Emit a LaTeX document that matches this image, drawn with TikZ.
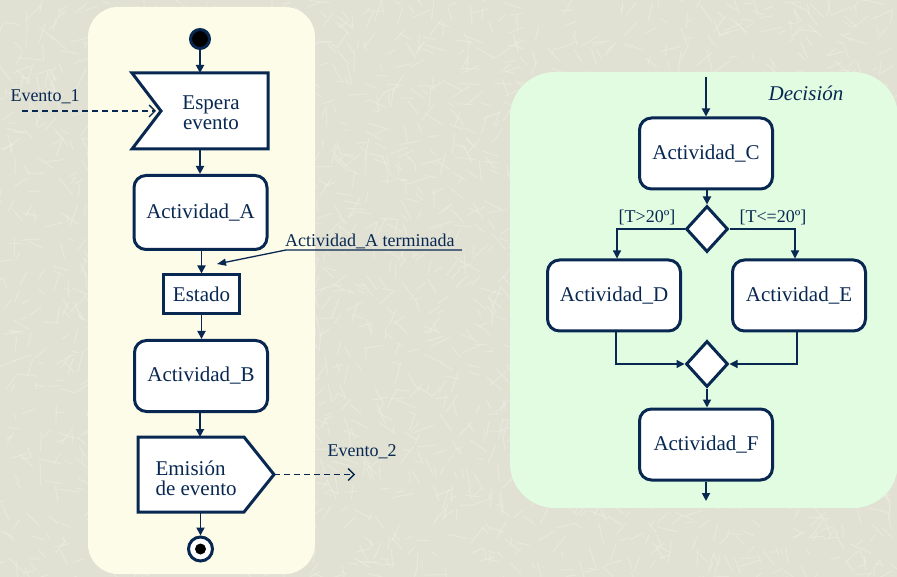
\documentclass[tikz,border=0pt]{standalone}
\usepackage{fontspec}
\setmainfont{Liberation Serif}
\usetikzlibrary{arrows.meta,shapes.geometric,calc}

\definecolor{navy}{RGB}{8,40,82}
\definecolor{backdrop}{RGB}{224,224,211}
\definecolor{straw}{RGB}{238,238,229}
\definecolor{panelyellow}{RGB}{252,252,232}
\definecolor{panelgreen}{RGB}{226,252,226}

\begin{document}
\begin{tikzpicture}[x=1pt,y=-1pt,
  every node/.style={text=navy},
  bigtext/.style={font=\fontsize{21}{20}\selectfont},
  smalltext/.style={font=\fontsize{18}{20}\selectfont},
  activity/.style={bigtext, draw=navy, line width=3pt, fill=white,
    rounded corners=12pt, minimum width=133pt, minimum height=71pt, inner sep=0pt},
  statebox/.style={bigtext, draw=navy, line width=3pt, fill=white,
    minimum width=76pt, minimum height=39pt, inner sep=0pt},
  choice/.style={diamond, draw=navy, line width=3pt, fill=white,
    minimum width=42pt, minimum height=46pt, inner sep=0pt},
  outline/.style={draw=navy, line width=3pt, fill=white, line join=miter},
  placeholder/.style={inner sep=0pt, outer sep=0pt},
  flow/.style={draw=navy, line width=1.8pt, -{Triangle[length=8pt,width=8pt]}},
  thinflow/.style={draw=navy, line width=1.2pt, -{Triangle[length=8pt,width=8pt]}},
  signalflow/.style={draw=navy, line width=1.3pt, dash pattern=on 6pt off 4pt,
    -{Straight Barb[length=6pt,width=12pt]}},
]
% textured page background
\fill[backdrop] (0,0) rectangle (897,577);
\pgfmathsetseed{4711}
\begin{scope}
  \clip (0,0) rectangle (897,577);
  \foreach \k in {1,...,2600}{
    \pgfmathsetmacro{\px}{rnd*897}
    \pgfmathsetmacro{\py}{rnd*577}
    \pgfmathsetmacro{\ang}{rnd*360}
    \pgfmathsetmacro{\len}{6+rnd*16}
    \draw[straw, line width=1.1pt, line cap=round, opacity=0.55]
      (\px,\py) -- ++(\ang:\len);
  }
\end{scope}
\useasboundingbox (0,0) rectangle (897,577);

% swimlanes
\fill[panelyellow, rounded corners=30pt] (88,7) rectangle (315,574);
\fill[panelgreen, rounded corners=45pt] (510,72) rectangle (898,508);

% ---------- left lane: events ----------
\node[circle, draw=navy, fill=black, line width=3pt, minimum size=19pt, inner sep=0pt]
  (start) at (200,39) {};

% "Espera evento": notched box (outline first, text on top)
\node[placeholder, minimum width=136pt, minimum height=76pt] (espera) at (200,111) {};
\coordinate (esperanotch) at ($(espera.west)+(29,0)$);
\path[outline] (espera.north west) -- (espera.north east) -- (espera.south east)
  -- (espera.south west) -- (esperanotch) -- cycle;
\node[bigtext, align=center] (esperatext) at (211,113) {Espera\\evento};

\node[smalltext] (ev1label) at (45,97) {Evento\_1};
\coordinate (ev1start) at (22,111);
\coordinate (ev1end) at ($(esperanotch)+(-5,0)$);
\draw[signalflow] (ev1start) -- (ev1end);

\node[activity, minimum height=74pt] (actA) at (200.5,212.5) {Actividad\_A};
\node[statebox] (estado) at (201.5,294.5) {Estado};

\node[smalltext, anchor=base west, inner sep=0pt] (termlabel) at (285,247) {Actividad\_A terminada};
\coordinate (termright) at (462,250);
\coordinate (termleft) at (286,250);
\coordinate (termtip) at (217,264);
\draw[navy, line width=1.3pt, -{Triangle[length=9pt,width=7pt]}]
  (termright) -- (termleft) -- (termtip);

\node[activity] (actB) at (201,376) {Actividad\_B};

% "Emisión de evento": pointed box
\node[placeholder, minimum width=136pt, minimum height=75pt] (emision) at (206,474.5) {};
\coordinate (emisionbend) at ($(emision.north east)+(-30,0)$);
\coordinate (emisionfoot) at ($(emision.south east)+(-30,0)$);
\path[outline] (emision.north west) -- (emisionbend) -- (emision.east)
  -- (emisionfoot) -- (emision.south west) -- cycle;
\node[bigtext, align=left, anchor=west] (emisiontext) at (152,478) {Emisión\\de evento};

\node[smalltext] (ev2label) at (362,452) {Evento\_2};
\coordinate (ev2end) at (355,474.5);
\draw[signalflow] (emision.east) -- (ev2end);

\node[circle, draw=navy, fill=white, line width=3pt, minimum size=24pt, inner sep=0pt]
  (finish) at (200.5,549) {};
\fill[black] (finish.center) circle (5.5pt);

\draw[flow] (start) -- (espera.north -| start);
\draw[flow] (espera.south -| start) -- (actA.north -| start);
\draw[flow] (actA.south -| estado) -- (estado.north);
\draw[flow] (estado.south) -- (actB.north -| estado);
\draw[flow] (actB.south -| start) -- (emision.north -| start);
\draw[flow] (emision.south -| finish) -- (finish.north);

% ---------- right lane: decision ----------
\node[bigtext, font=\fontsize{21}{20}\selectfont\itshape] (title) at (806,93) {Decisión};

\coordinate (cin) at (706,77);
\node[activity] (actC) at (706,153.5) {Actividad\_C};
\node[choice] (branch) at (707,229) {};
\node[activity] (actD) at (614,295.5) {Actividad\_D};
\node[activity] (actE) at (799,295.5) {Actividad\_E};
\node[choice] (merge) at (707,364) {};
\node[activity] (actF) at (706,444.5) {Actividad\_F};
\coordinate (cout) at (706,501);

\draw[flow] (cin) -- (actC.north);
\draw[flow] (actC.south -| branch) -- (branch.north);
\draw[thinflow] (branch.west) -| ($(actD.north)+(3,0)$);
\draw[thinflow] (branch.east) -| ($(actE.north)+(-4,0)$);
\node[smalltext, anchor=base] (gtlabel) at (647,223) {[T>20º]};
\node[smalltext, anchor=base] (lelabel) at (773,223) {[T<=20º]};
\draw[thinflow] ($(actD.south)+(2,0)$) |- (merge.west);
\draw[thinflow] ($(actE.south)+(-2,0)$) |- (merge.east);
\draw[flow] (merge.south) -- (actF.north -| merge);
\draw[flow] (actF.south) -- (cout);
\end{tikzpicture}
\end{document}
